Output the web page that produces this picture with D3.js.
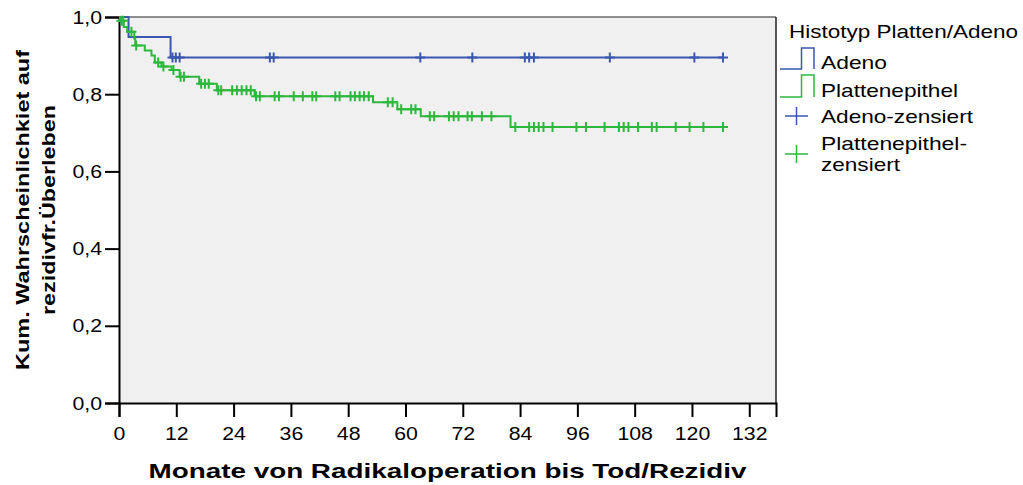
<!DOCTYPE html>
<html>
<head>
<meta charset="utf-8">
<script src="https://cdn.jsdelivr.net/npm/d3@7"></script>
<style>
  body { margin: 0; background: #fff; }
  svg text { font-family: Arial, "Liberation Sans", sans-serif; fill: #000; }
</style>
</head>
<body>
<script>
// Kaplan-Meier data (months, cumulative survival)
let adenoEventT = [2.0, 10.8]
let adenoEventS = [0.948, 0.895]
let adenoCensT = [11.2, 11.9, 12.7, 31.6, 32.4, 63.1, 74.0, 85.0, 85.9, 86.9, 102.8, 120.5, 126.5]

let plattEventT = [0.2, 1.0, 1.7, 3.2, 3.4, 5.4, 6.8, 7.5, 8.9, 11.0, 12.7, 16.8, 20.5, 28.4, 53.2, 58.3, 63.2, 82.0]
let plattEventS = [0.99, 0.974, 0.962, 0.944, 0.926, 0.913, 0.900, 0.882, 0.872, 0.863, 0.845, 0.827, 0.810, 0.795, 0.779, 0.761, 0.743, 0.715]
let plattCensT = [0.5, 0.9, 2.6, 3.6, 8.2, 9.3, 11.4, 12.9, 13.6, 17.2, 18.0, 18.8, 20.8, 21.4,
  23.7, 24.7, 25.7, 26.7, 27.6, 28.7, 29.5, 32.6, 33.5, 36.6, 38.5, 40.5, 41.3, 45.3, 46.2,
  48.5, 49.4, 50.4, 51.3, 52.3, 56.3, 57.3, 59.1, 61.2, 62.1, 65.1, 66.0, 69.1, 70.1, 71.1,
  73.0, 73.9, 76.0, 78.0, 83.0, 85.9, 86.9, 87.9, 88.9, 90.8, 95.8, 97.8, 101.7, 104.7,
  105.7, 106.7, 108.7, 111.6, 112.6, 116.6, 119.5, 122.4, 126.5]

let xTicks = [0, 12, 24, 36, 48, 60, 72, 84, 96, 108, 120, 132]
let yTicks = [0, 0.2, 0.4, 0.6, 0.8, 1.0]

let blue = "#3b57b0", green = "#2db83d"

let width = 1023, height = 485
let svg = d3.select("body").append("svg")
    .attr("width", width)
    .attr("height", height)

// the picture's text is a bit wider than plain Arial, so stretch it
function stretch(node, len) {
  let L = len || node.getComputedTextLength() * 1.12
  node.setAttribute("textLength", L)
  node.setAttribute("lengthAdjust", "spacingAndGlyphs")
}

let x = d3.scaleLinear().domain([0, 137.6]).range([119, 776])
let y = d3.scaleLinear().domain([0, 1]).range([403, 17])

// plot background and frame
svg.append("rect")
  .attr("x", x(0)).attr("y", y(1))
  .attr("width", x(137.6) - x(0)).attr("height", y(0) - y(1))
  .attr("fill", "#f0f0f0")
svg.append("line").attr("x1", x(0)).attr("x2", x(137.6)).attr("y1", y(1)).attr("y2", y(1))
  .attr("stroke", "#6a6a6a").attr("stroke-width", 1.5)
svg.append("line").attr("x1", x(137.6)).attr("x2", x(137.6)).attr("y1", y(1)).attr("y2", y(0))
  .attr("stroke", "#222").attr("stroke-width", 1.5)

// axes
let fmt = d => d3.format(".1f")(d).replace(".", ",")
let yAxis = svg.append("g").attr("transform", `translate(${x(0)},0)`)
  .call(d3.axisLeft(y).tickValues(yTicks).tickFormat(fmt).tickSize(14).tickPadding(3))
let xAxis = svg.append("g").attr("transform", `translate(0,${y(0)})`)
  .call(d3.axisBottom(x).tickValues(xTicks).tickSize(14).tickPadding(10))
;[yAxis, xAxis].forEach(a => {
  a.select(".domain").attr("stroke", "#000").attr("stroke-width", 2)
  a.selectAll(".tick line").attr("stroke", "#000").attr("stroke-width", 2)
  a.selectAll("text").attr("font-size", 19).attr("font-family", "Arial, 'Liberation Sans', sans-serif")
    .each(function() { stretch(this) })
})

// axis titles
svg.append("text")
  .attr("x", x(0) + (x(137.6) - x(0)) / 2).attr("y", 478)
  .attr("text-anchor", "middle")
  .attr("font-size", 21).attr("font-weight", "bold")
  .text("Monate von Radikaloperation bis Tod/Rezidiv")
  .each(function() { stretch(this, 598) })
let yTitleLines = [["Kum. Wahrscheinlichkiet auf", 29, 320], ["rezidivfr.Überleben", 55, 210]]
yTitleLines.forEach(d => {
  svg.append("text")
    .attr("transform", `translate(${d[1]},210) rotate(-90)`)
    .attr("text-anchor", "middle")
    .attr("font-size", 19).attr("font-weight", "bold")
    .text(d[0])
    .each(function() { stretch(this, d[2]) })
})

// survival curves
function stepPoints(evT, evS, censT) {
  let pts = [[0, 1]]
  evT.forEach((t, i) => pts.push([t, evS[i]]))
  let last = d3.max(censT.concat(evT))
  pts.push([last, evS[evS.length - 1]])
  return pts
}
function levelAt(t, evT, evS) {
  let s = 1
  evT.forEach((e, i) => { if (e <= t) s = evS[i] })
  return s
}
let line = d3.line().x(d => x(d[0])).y(d => y(d[1])).curve(d3.curveStepAfter)

let series = [
  { evT: adenoEventT, evS: adenoEventS, cens: adenoCensT, color: blue },
  { evT: plattEventT, evS: plattEventS, cens: plattCensT, color: green }
]
series.forEach(s => {
  svg.append("path")
    .attr("d", line(stepPoints(s.evT, s.evS, s.cens)))
    .attr("fill", "none").attr("stroke", s.color).attr("stroke-width", 2)
  svg.append("g").selectAll("path")
    .data(s.cens)
    .enter()
    .append("path")
    .attr("d", t => {
      let cx = x(t), cy = y(levelAt(t, s.evT, s.evS))
      return `M${cx - 5},${cy}H${cx + 5}M${cx},${cy - 5}V${cy + 5}`
    })
    .attr("stroke", s.color).attr("stroke-width", 2).attr("fill", "none")
})

// legend
let lg = svg.append("g")
lg.append("text").attr("x", 789).attr("y", 31).attr("dominant-baseline", "central")
  .attr("font-size", 18.5).text("Histotyp Platten/Adeno")
  .each(function() { stretch(this, 229) })
let legendSteps = [
  { label: "Adeno", color: blue, top: 48, bottom: 69, len: 66 },
  { label: "Plattenepithel", color: green, top: 75, bottom: 97, len: 137 }
]
legendSteps.forEach(d => {
  lg.append("path")
    .attr("d", `M780,${d.bottom}H801.5V${d.top}H814V${d.bottom}`)
    .attr("fill", "none").attr("stroke", d.color).attr("stroke-width", 1.5)
  lg.append("text").attr("x", 821).attr("y", (d.top + d.bottom) / 2 + 4)
    .attr("dominant-baseline", "central").attr("font-size", 18.5).text(d.label)
    .each(function() { stretch(this, d.len) })
})
let legendMarks = [
  { lines: ["Adeno-zensiert"], lens: [152], color: blue, cy: 116 },
  { lines: ["Plattenepithel-", "zensiert"], lens: [146, 79], color: green, cy: 154 }
]
legendMarks.forEach(d => {
  lg.append("path")
    .attr("d", `M785,${d.cy}H808M796.5,${d.cy - 9}V${d.cy + 9}`)
    .attr("fill", "none").attr("stroke", d.color).attr("stroke-width", 1.5)
  d.lines.forEach((l, i) => {
    lg.append("text").attr("x", 821)
      .attr("y", d.lines.length === 1 ? d.cy : d.cy - 11 + i * 21)
      .attr("dominant-baseline", "central").attr("font-size", 18.5).text(l)
      .each(function() { stretch(this, d.lens[i]) })
  })
})
</script>
</body>
</html>
